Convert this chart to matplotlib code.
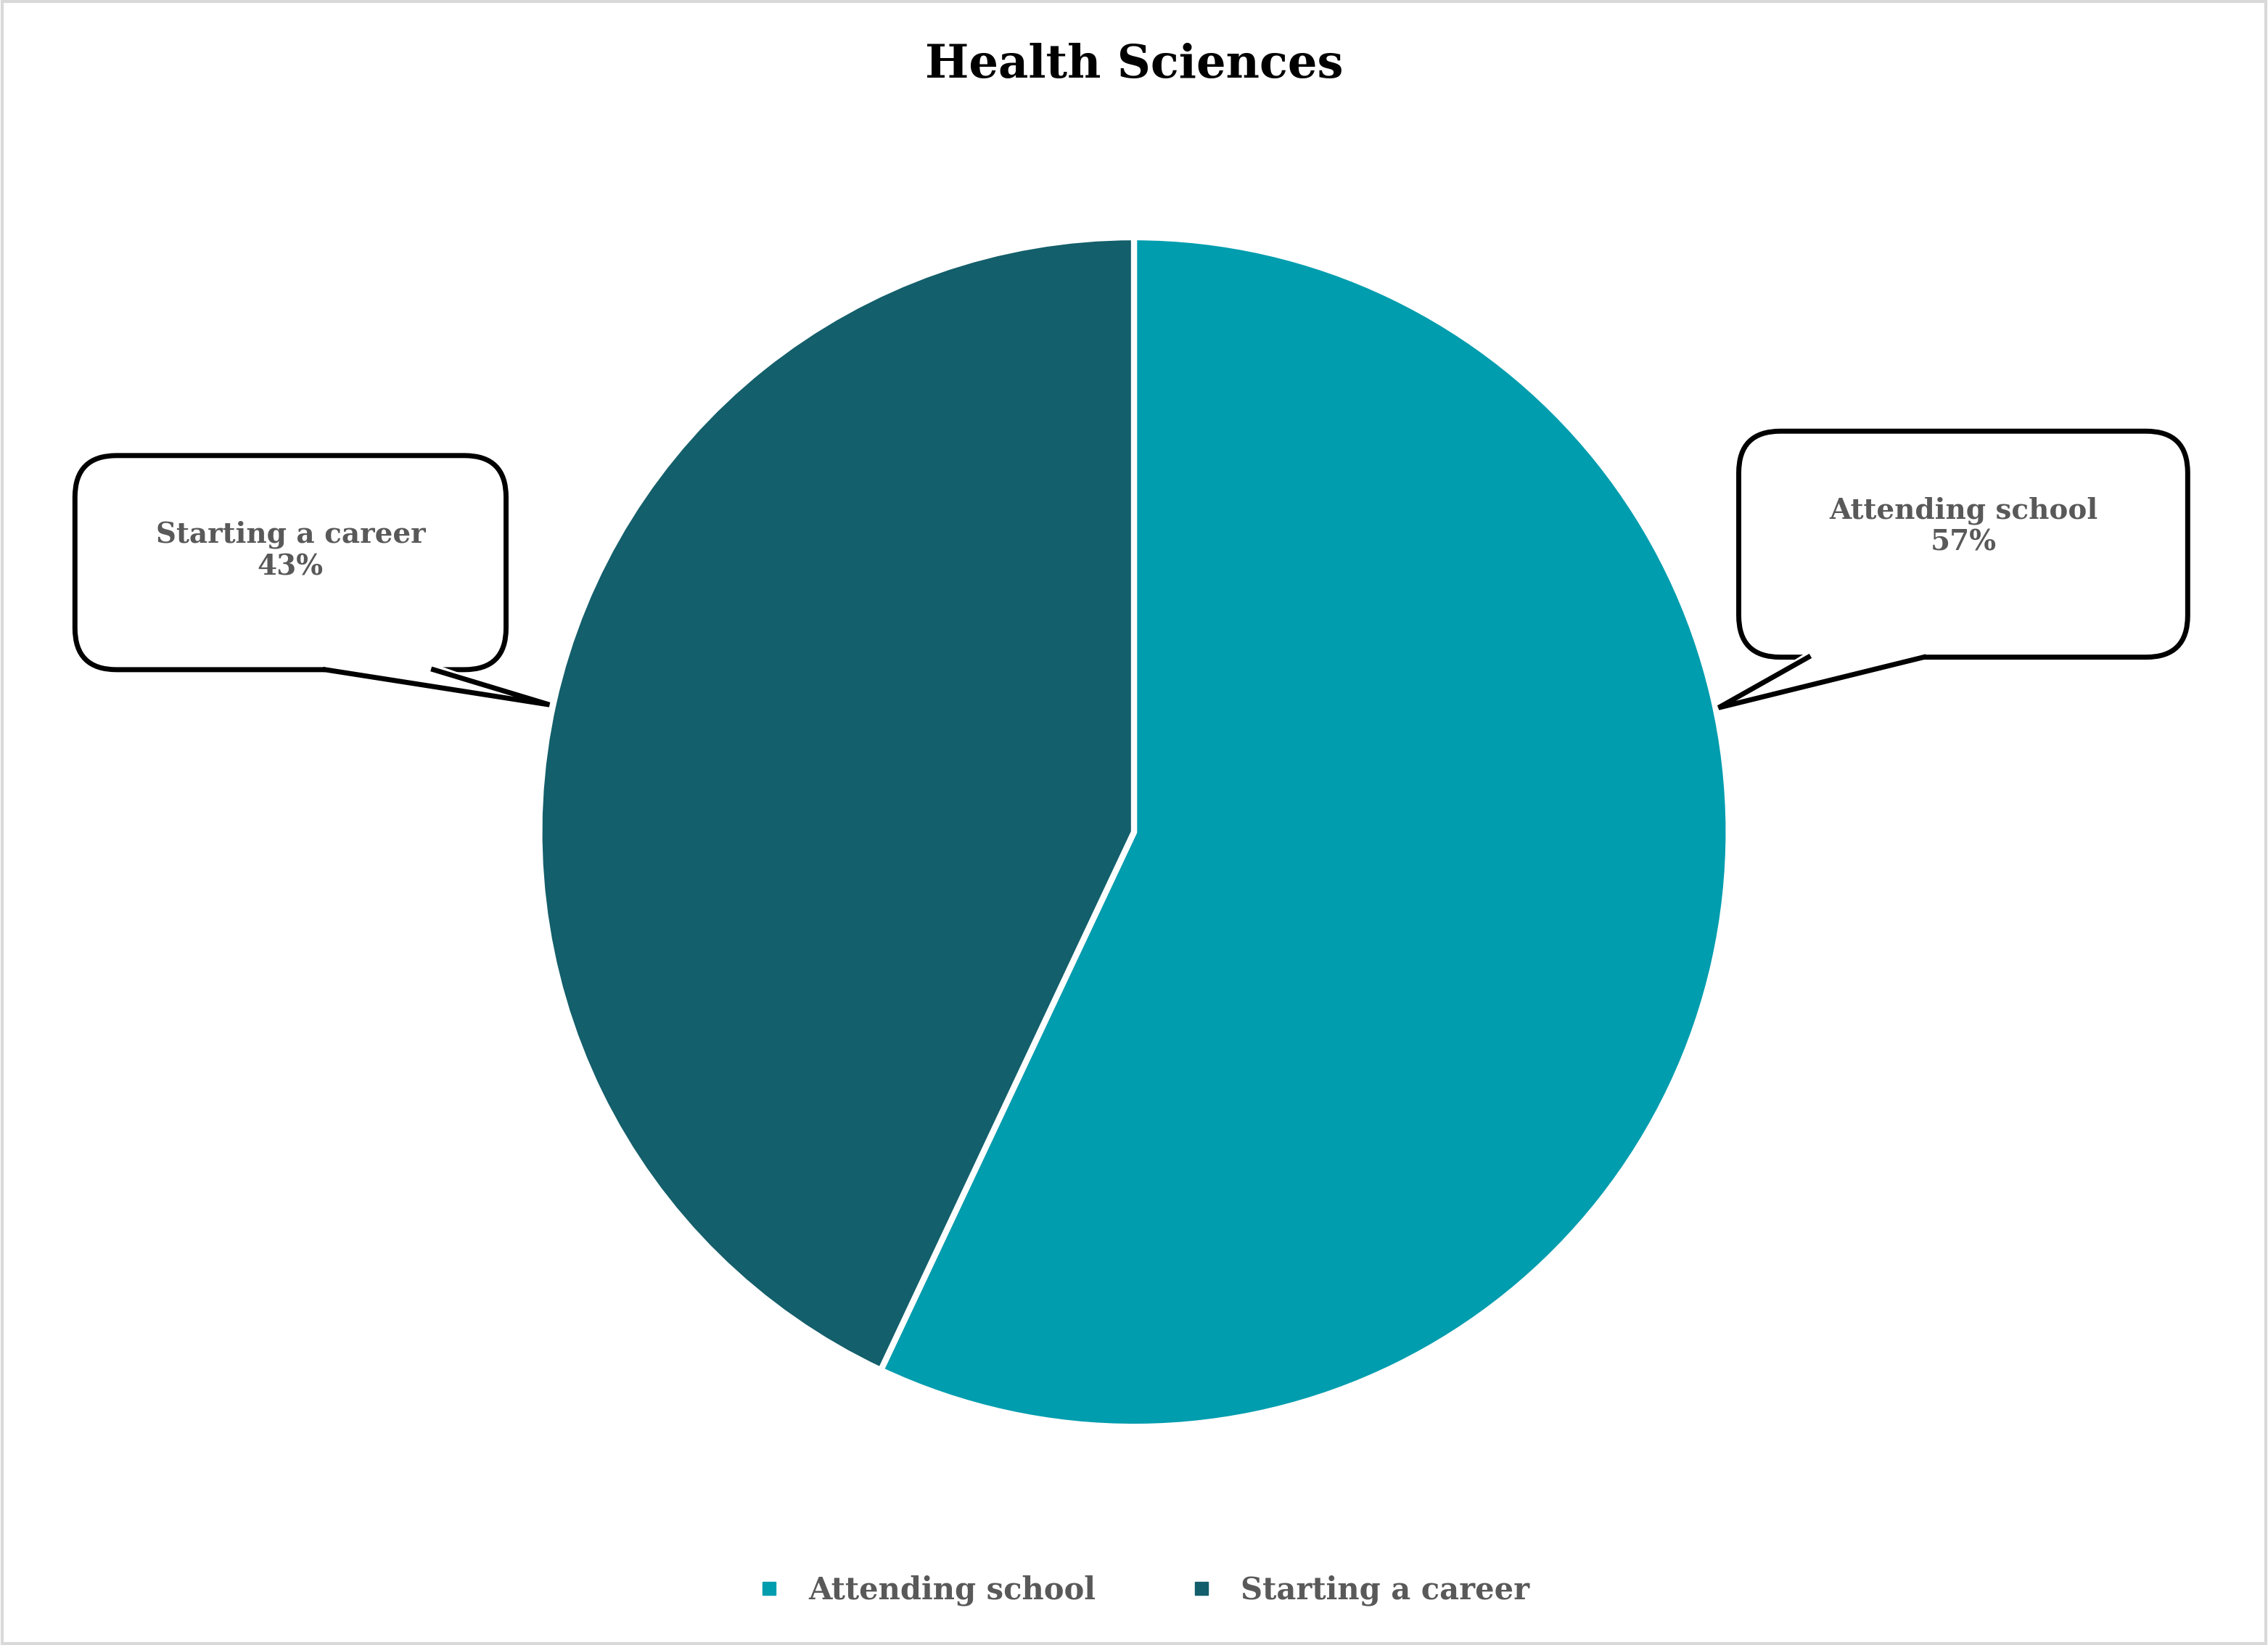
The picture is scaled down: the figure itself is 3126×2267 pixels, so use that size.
import matplotlib
matplotlib.use("Agg")
import matplotlib.pyplot as plt
from matplotlib.patches import FancyBboxPatch, Polygon, Rectangle
from matplotlib.lines import Line2D

categories = ["Attending school", "Starting a career"]
values = [57, 43]
colors = ["#009DAE", "#135F6B"]
title = "Health Sciences"

plt.rcParams['font.family'] = ['DejaVu Serif']
fig = plt.figure(figsize=(31.26, 22.67), dpi=100)
ax = fig.add_axes([0, 0, 1, 1])
ax.set_xlim(-1.907, 1.907)
ax.set_ylim(-1.367, 1.399)
ax.axis('off')

ax.pie(values, colors=colors, startangle=90, counterclock=False, radius=1.0,
       wedgeprops=dict(edgecolor='white', linewidth=6))
ax.set_xlim(-1.907, 1.907)
ax.set_ylim(-1.367, 1.399)
ax.set_aspect('equal')

ax.text(0, 1.29, title, ha='center', va='center', fontsize=46, fontweight='bold', color='black')

def callout(x0, x1, y0, y1, b0, b1, tip, text):
    box = FancyBboxPatch((x0, y0), x1 - x0, y1 - y0, boxstyle="round,pad=0,rounding_size=0.07",
                         facecolor='white', edgecolor='black', linewidth=5, zorder=3)
    ax.add_patch(box)
    ax.add_patch(Polygon([(b0, y0 + 0.01), (b1, y0 + 0.01), tip], closed=True,
                         facecolor='white', edgecolor='none', zorder=4))
    ax.add_patch(Rectangle((min(b0, b1), y0 - 0.005), abs(b1 - b0), 0.02,
                           facecolor='white', edgecolor='none', zorder=4))
    ax.add_line(Line2D([b0, tip[0], b1], [y0, tip[1], y0], color='black', linewidth=5, zorder=5,
                       solid_joinstyle='miter'))
    ax.text((x0 + x1) / 2, y1 - 0.16, text, ha='center', va='center', fontsize=28,
            fontweight='bold', color='#595959', zorder=6, linespacing=1.2)

callout(-1.781, -1.056, 0.273, 0.633, -1.360, -1.178, (-0.983, 0.214),
        f"{categories[1]}\n{values[1]}%")
callout(1.017, 1.772, 0.294, 0.674, 1.328, 1.134, (0.983, 0.209),
        f"{categories[0]}\n{values[0]}%")

handles = [Line2D([], [], marker='s', linestyle='none', markersize=13, color=c) for c in colors]
leg = ax.legend(handles, categories, loc='center', bbox_to_anchor=(0, -1.275),
                bbox_transform=ax.transData, ncol=2, frameon=False, fontsize=30,
                handletextpad=0.3, columnspacing=2.5, prop=dict(weight='bold', size=30))
for t in leg.get_texts():
    t.set_color('#595959')

fig.add_artist(Rectangle((0.001, 0.001), 0.998, 0.998, transform=fig.transFigure,
                         fill=False, edgecolor='#D9D9D9', linewidth=3))
fig.savefig("out.png", dpi=100, facecolor='white')
